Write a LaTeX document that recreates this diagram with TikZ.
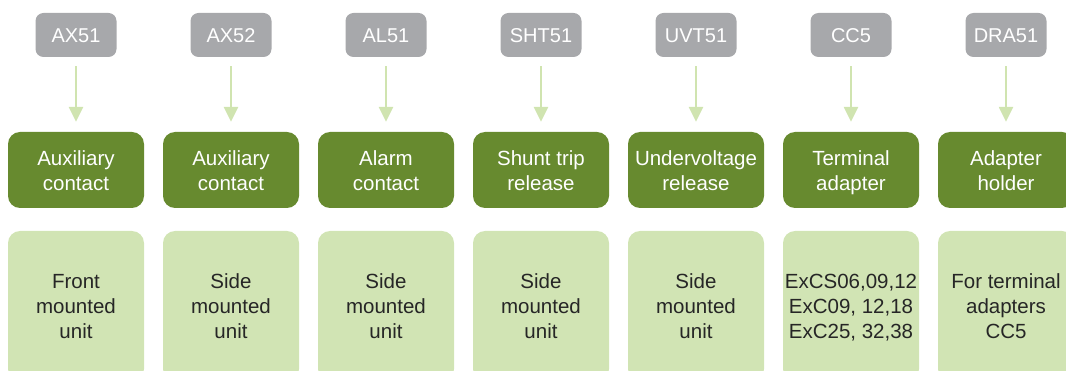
\documentclass[tikz,border=0pt]{standalone}
\usepackage{fontspec}
\setmainfont{Liberation Sans}
\usetikzlibrary{arrows.meta}
\definecolor{tagGray}{HTML}{A7A8AB}
\definecolor{darkGreen}{HTML}{678A2F}
\definecolor{lightGreen}{HTML}{D1E4B4}
\definecolor{arrowGreen}{HTML}{D0E4B0}
\definecolor{textDark}{HTML}{262626}
\begin{document}
\begin{tikzpicture}[x=1pt,y=-1pt,
  struts/.style={execute at begin node=\strut, execute at end node=\strut},
  tagbox/.style={fill=tagGray, rounded corners=8pt, minimum width=81pt, minimum height=44pt, inner sep=0pt},
  tagtext/.style={text=white, font=\fontsize{20}{24}\selectfont, inner sep=0pt, struts},
  itembox/.style={fill=darkGreen, rounded corners=12pt, minimum width=136pt, minimum height=76pt, inner sep=0pt},
  itemtext/.style={text=white, font=\fontsize{20.5}{25}\selectfont, align=center, inner sep=0pt, struts},
  infobox/.style={fill=lightGreen, rounded corners=12pt, minimum width=136pt, minimum height=150pt, inner sep=0pt},
  infotext/.style={text=textDark, font=\fontsize{20.5}{25}\selectfont, align=center, inner sep=0pt, struts},
  feed/.style={draw=arrowGreen, line width=2.5pt, -{Triangle[length=15pt,width=14pt]},
    shorten <=9pt, shorten >=10pt}
]
\useasboundingbox (0,0) rectangle (1066,371);
\clip (0,0) rectangle (1066,371);
\foreach \i/\x/\tag/\item/\info in {
  1/76/AX51/{Auxiliary\\contact}/{Front\\mounted\\unit},
  2/231/AX52/{Auxiliary\\contact}/{Side\\mounted\\unit},
  3/386/AL51/{Alarm\\contact}/{Side\\mounted\\unit},
  4/541/SHT51/{Shunt trip\\release}/{Side\\mounted\\unit},
  5/696/UVT51/{Undervoltage\\release}/{Side\\mounted\\unit},
  6/851/CC5/{Terminal\\adapter}/{ExCS06,09,12\\ExC09, 12,18\\ExC25, 32,38},
  7/1006/DRA51/{Adapter\\holder}/{For terminal\\adapters\\CC5}}{
  \node[tagbox] (g\i) at (\x,35) {};
  \node[tagtext] (gt\i) at (\x,38) {\tag};
  \node[itembox] (d\i) at (\x,170) {};
  \node[itemtext] (dt\i) at (\x,174) {\item};
  \node[infobox] (l\i) at (\x,306) {};
  \node[infotext] (lt\i) at (\x,310) {\info};
  \draw[feed] (g\i) -- (d\i);
}
\end{tikzpicture}
\end{document}
